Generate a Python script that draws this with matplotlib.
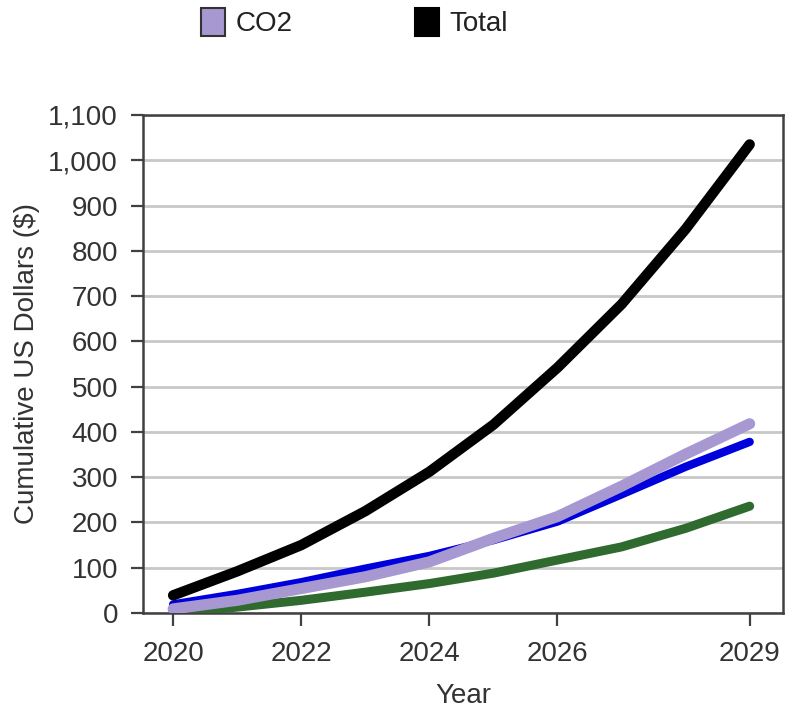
import matplotlib
matplotlib.use("Agg")
import matplotlib.pyplot as plt
from matplotlib.patches import Patch

years = [2020, 2021, 2022, 2023, 2024, 2025, 2026, 2027, 2028, 2029]
total = [39, 92, 150, 225, 312, 416, 542, 682, 848, 1035]
co2 = [9, 28, 54, 80, 113, 165, 213, 280, 351, 418]
blue_series = [19, 42, 68, 98, 126, 161, 202, 262, 323, 378]
green_series = [1, 13, 28, 46, 65, 88, 117, 146, 187, 236]

xticks = [2020, 2022, 2024, 2026, 2029]
yticks = list(range(0, 1101, 100))

plt.rcParams['font.family'] = ['Liberation Sans', 'DejaVu Sans']
fs = 20
W, H = 785, 708
fig = plt.figure(figsize=(W / 100, H / 100), dpi=100)
ax = fig.add_axes([143 / W, 1 - 613 / H, (783 - 143) / W, (613 - 115) / H])

kw = dict(solid_capstyle='round', solid_joinstyle='round')
ax.plot(years, green_series, color='#2f6a2f', lw=6.5, zorder=3, **kw)
ax.plot(years, blue_series, color='#0000dd', lw=6, zorder=4, **kw)
ax.plot(years, co2, color='#a898d2', lw=8, zorder=5, **kw)
ax.plot(years, total, color='#000000', lw=7.5, zorder=6, **kw)

ax.set_xlim(2019.53, 2029.52)
ax.set_ylim(0, 1100)
ax.set_xticks(xticks)
ax.set_xticklabels([str(t) for t in xticks])
ax.set_yticks(yticks)
ax.set_yticklabels([f"{t:,}" for t in yticks])
ax.yaxis.grid(True, color='#c8c8c8', lw=2)
ax.set_axisbelow(True)
for s in ax.spines.values():
    s.set_color('#404040')
    s.set_linewidth(1.8)
ax.tick_params(axis='both', colors='#404040', labelcolor='#333333', labelsize=fs,
               length=9, width=1.6, direction='out')
ax.tick_params(axis='y', pad=9)
ax.tick_params(axis='x', pad=11)
ax.set_xlabel('Year', fontsize=fs, color='#333333', labelpad=12)
ax.set_ylabel('Cumulative US Dollars ($)', fontsize=fs, color='#333333', labelpad=6)

handles = [Patch(facecolor='#a898d2', edgecolor='#333333', lw=1.5, label='CO2'),
           Patch(facecolor='#000000', edgecolor='#000000', lw=1.5, label='Total')]
fig.legend(handles=handles, loc='upper left', bbox_to_anchor=(201 / W, 1 - 8 / H),
           ncol=2, frameon=False, fontsize=fs, handlelength=0.85, handleheight=1.15,
           handletextpad=0.4, columnspacing=4.4, borderpad=0, borderaxespad=0,
           labelcolor='#222222')

fig.savefig('out.png', dpi=100)
